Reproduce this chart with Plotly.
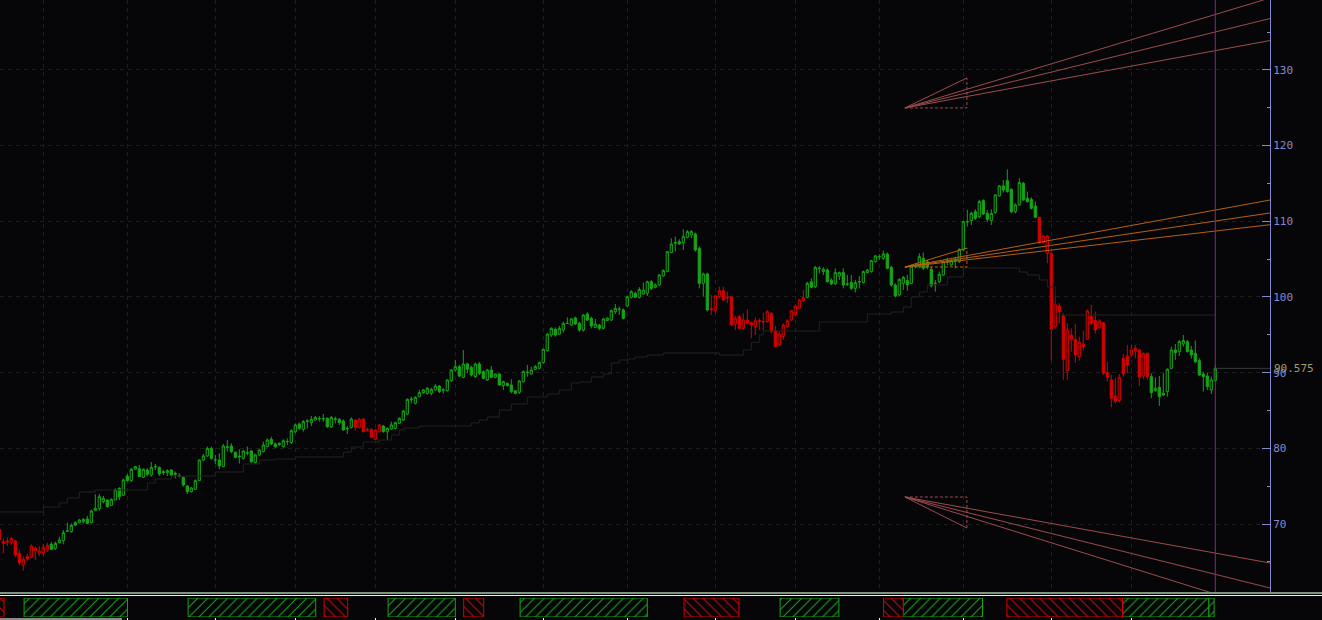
import plotly.graph_objects as go

BG = "#060609"
GREEN = "#14a514"
RED = "#d40000"
GRID = "#1e1e1e"
AXIS = "#8888cc"

opens = [69.31, 67.68, 67.77, 67.55, 67.77, 66.14, 64.6, 65.7, 65.61, 66.8,
         66.14, 66.23, 66.58, 67.33, 66.76, 67.55, 67.81, 69.05, 69.0, 70.19,
         70.19, 70.32, 70.67, 70.19, 71.77, 72.04, 72.96, 73.18, 72.48, 73.18,
         74.72, 73.8, 76.35, 75.74, 77.24, 77.32, 76.18, 77.15, 76.49, 77.55,
         77.5, 76.93, 76.8, 77.15, 76.71, 76.35, 76.18, 75.03, 74.28, 74.59,
         75.74, 78.47, 79.0, 80.0, 78.47, 78.47, 77.59, 80.1, 80.32, 79.48,
         79.0, 78.69, 79.4, 79.66, 78.12, 79.13, 79.57, 80.23, 81.2, 80.58,
         80.5, 80.23, 80.9, 80.76, 82.2, 83.22, 82.52, 83.58, 83.4, 83.75,
         83.9, 83.9, 83.97, 82.87, 83.8, 83.84, 83.62, 82.6, 82.78, 83.75,
         82.78, 83.88, 82.5, 82.52, 81.2, 82.21, 82.96, 82.21, 82.56, 82.65,
         83.31, 83.75, 84.54, 86.4, 85.95, 86.83, 87.36, 87.27, 87.27, 87.72,
         88.24, 87.72, 87.63, 88.95, 90.36, 90.8, 89.39, 91.15, 90.71, 89.48,
         91.15, 90.14, 89.04, 90.36, 89.39, 89.83, 88.29, 88.6, 88.38, 87.6,
         87.4, 88.81, 90.0, 89.83, 90.45, 90.58, 91.33, 92.9, 94.98, 95.73,
         95.1, 95.64, 96.5, 96.3, 97.23, 96.52, 95.64, 97.75, 97.18, 95.99,
         96.3, 95.86, 96.9, 96.96, 98.06, 98.36, 98.28, 98.81, 99.96, 100.48,
         99.96, 100.4, 100.48, 102.02, 101.28, 101.58, 102.77, 103.35, 105.86, 107.1,
         107.3, 107.18, 107.88, 108.19, 108.32, 106.43, 101.8, 103.04, 98.45, 98.19,
         100.04, 100.83, 100.0, 100.04, 96.43, 97.4, 95.86, 96.96, 96.6, 96.08,
         96.87, 96.74, 96.74, 97.84, 95.55, 93.66, 94.76, 96.08, 96.96, 97.62,
         98.5, 99.52, 99.96, 102.0, 101.36, 103.8, 103.35, 103.57, 102.24, 101.72,
         102.77, 103.22, 101.72, 101.9, 101.14, 102.0, 101.9, 103.22, 103.35, 104.67,
         105.3, 105.1, 105.68, 103.92, 101.58, 100.26, 101.8, 102.16, 101.8, 104.0,
         104.01, 105.11, 104.67, 103.66, 101.8, 102.02, 102.9, 104.6, 104.23, 104.8,
         104.67, 106.21, 109.9, 110.09, 111.27, 110.6, 112.73, 111.05, 110.09, 111.14,
         113.35, 114.67, 115.37, 114.23, 111.27, 112.16, 115.02, 113.04, 112.9, 112.02,
         110.53, 107.18, 105.77, 105.77, 96.09, 98.82, 97.5, 90.27, 94.98, 94.41,
         92.12, 93.8, 94.41, 97.5, 96.88, 96.0, 96.61, 90.01, 89.04, 86.93,
         86.31, 91.9, 92.21, 92.34, 93.22, 93.0, 89.57, 92.56, 89.48, 87.63,
         88.07, 87.28, 87.5, 90.58, 93.0, 92.78, 93.8, 94.1, 93.0, 92.56,
         91.6, 89.83, 89.57, 87.72, 88.95]

highs = [69.4, 68.12, 68.25, 68.25, 67.9, 66.58, 65.7, 66.05, 67.3, 67.02,
         67.11, 67.37, 67.55, 67.64, 67.68, 68.34, 69.22, 70.19, 70.1, 70.37,
         70.67, 70.8, 71.07, 71.9, 73.93, 73.98, 73.71, 73.27, 73.4, 74.72,
         74.86, 76.0, 76.62, 77.4, 77.68, 77.81, 77.35, 77.37, 78.2, 77.94,
         77.59, 77.15, 77.24, 77.24, 76.93, 76.71, 76.27, 75.12, 74.9, 75.9,
         78.55, 79.26, 80.23, 80.23, 79.13, 79.35, 80.58, 81.1, 80.67, 79.6,
         79.88, 79.8, 80.23, 79.79, 79.3, 79.9, 80.89, 81.33, 81.55, 80.8,
         80.8, 81.2, 81.33, 82.52, 83.3, 83.4, 83.75, 83.84, 84.28, 84.28,
         84.28, 84.54, 84.1, 84.28, 84.19, 84.0, 83.84, 82.96, 84.1, 83.84,
         84.0, 84.0, 82.78, 82.65, 82.56, 83.22, 83.1, 82.78, 83.53, 83.53,
         84.1, 85.08, 86.6, 86.83, 86.9, 87.72, 87.85, 88.1, 88.0, 88.5,
         88.38, 87.94, 89.13, 90.5, 91.68, 91.02, 92.99, 91.33, 90.9, 91.3,
         91.42, 90.3, 90.5, 90.88, 89.9, 89.92, 88.95, 88.7, 89.13, 87.7,
         89.04, 90.3, 91.02, 90.8, 91.0, 91.5, 93.2, 95.2, 96.0, 95.99,
         96.17, 96.74, 97.31, 97.2, 97.4, 96.74, 97.75, 97.97, 97.4, 97.1,
         96.43, 97.23, 97.31, 98.32, 99.07, 98.72, 98.5, 100.2, 100.9, 100.7,
         101.3, 101.9, 102.16, 102.24, 101.8, 103.04, 103.65, 106.0, 107.75, 107.97,
         107.62, 108.94, 108.85, 108.85, 108.5, 106.65, 103.22, 103.22, 100.26, 100.26,
         101.36, 101.36, 100.7, 100.2, 97.49, 97.62, 97.84, 98.37, 96.74, 97.31,
         97.18, 97.93, 98.28, 98.0, 96.17, 95.55, 96.52, 97.05, 98.28, 98.94,
         99.74, 100.93, 102.0, 102.46, 104.1, 104.1, 103.92, 103.79, 102.46, 103.79,
         103.35, 103.79, 102.9, 102.9, 102.24, 102.77, 103.48, 103.7, 104.9, 105.55,
         105.64, 106.12, 105.86, 104.1, 101.8, 102.5, 102.77, 102.9, 104.23, 104.45,
         105.77, 105.86, 104.89, 104.0, 102.24, 103.35, 104.8, 105.2, 105.0, 105.3,
         106.43, 110.1, 111.5, 111.27, 111.58, 112.82, 112.9, 111.5, 111.58, 113.6,
         114.8, 115.46, 116.87, 114.36, 112.38, 115.68, 115.2, 113.92, 113.17, 112.6,
         110.6, 108.19, 108.19, 105.9, 100.1, 99.17, 97.85, 96.53, 95.86, 96.44,
         94.76, 95.56, 98.38, 98.95, 98.07, 97.05, 96.7, 91.46, 89.7, 89.26,
         89.83, 92.47, 93.66, 93.66, 93.66, 93.09, 92.65, 92.65, 89.92, 89.39,
         89.57, 89.92, 90.58, 93.44, 93.8, 94.32, 94.98, 94.32, 93.53, 94.24,
         91.9, 90.14, 90.01, 89.48, 91.02]

lows = [67.6, 66.14, 67.11, 67.24, 65.61, 64.6, 63.85, 65.17, 65.5, 65.26,
        65.79, 65.7, 66.32, 66.58, 66.58, 67.46, 67.33, 68.97, 68.87, 69.75,
        70.1, 70.1, 69.97, 70.1, 71.77, 71.77, 72.74, 72.22, 72.4, 73.18,
        73.18, 73.7, 75.61, 75.6, 77.15, 76.27, 76.1, 76.35, 76.27, 77.15,
        76.35, 76.49, 76.35, 76.35, 76.05, 76.18, 74.95, 73.98, 74.2, 74.5,
        75.7, 78.3, 78.9, 78.47, 77.94, 77.24, 77.55, 79.6, 79.35, 78.7,
        78.0, 78.5, 79.1, 78.03, 77.94, 79.0, 79.48, 80.14, 80.45, 80.1,
        80.3, 80.1, 80.45, 80.58, 82.0, 82.43, 82.21, 82.65, 82.96, 83.66,
        83.53, 83.53, 82.7, 82.7, 83.31, 83.1, 82.34, 81.9, 82.6, 82.34,
        82.65, 82.1, 82.21, 81.33, 81.11, 82.08, 82.08, 81.11, 82.43, 82.52,
        83.22, 83.62, 84.4, 85.95, 85.8, 86.75, 87.2, 87.1, 87.0, 87.63,
        87.3, 87.27, 87.5, 88.8, 90.14, 89.39, 89.26, 89.92, 89.5, 89.3,
        89.7, 89.1, 88.9, 89.26, 89.26, 88.24, 87.72, 88.15, 87.27, 87.15,
        87.2, 88.7, 89.48, 89.7, 90.36, 90.45, 91.2, 92.8, 94.7, 94.76,
        94.98, 95.3, 96.43, 96.2, 96.3, 95.42, 95.42, 96.83, 95.86, 95.86,
        95.6, 95.73, 96.83, 96.83, 97.75, 97.62, 97.05, 98.7, 99.8, 99.83,
        99.8, 100.26, 100.13, 100.92, 101.14, 101.45, 102.68, 103.3, 105.77, 105.99,
        106.9, 106.21, 107.75, 107.75, 105.99, 101.14, 100.04, 98.1, 97.62, 97.93,
        99.83, 99.4, 99.17, 96.2, 95.64, 95.73, 95.73, 96.43, 94.54, 94.98,
        95.64, 95.55, 96.6, 95.2, 93.35, 93.44, 94.32, 95.86, 96.87, 97.49,
        98.4, 99.39, 99.83, 101.14, 101.2, 103.13, 102.9, 101.9, 101.58, 101.58,
        102.24, 101.14, 101.45, 100.93, 100.58, 101.14, 101.8, 103.1, 103.22, 104.54,
        104.89, 104.89, 103.66, 101.36, 99.96, 100.13, 100.93, 100.83, 101.7, 103.79,
        103.79, 103.57, 103.66, 101.28, 100.7, 101.8, 102.8, 104.2, 104.1, 103.79,
        104.5, 106.1, 109.3, 109.51, 110.17, 110.4, 110.83, 109.95, 109.51, 111.0,
        113.26, 113.79, 113.79, 111.05, 111.05, 112.1, 112.7, 112.46, 111.58, 110.4,
        107.0, 107.0, 104.45, 91.6, 95.8, 96.53, 89.04, 89.04, 92.78, 91.33,
        91.6, 92.92, 94.32, 96.31, 95.2, 95.73, 89.7, 88.82, 85.43, 85.96,
        86.09, 89.48, 89.92, 92.03, 91.9, 88.25, 89.13, 89.04, 86.62, 87.5,
        85.61, 86.93, 86.84, 90.45, 91.68, 92.21, 93.44, 92.65, 91.86, 91.24,
        89.57, 87.5, 87.72, 87.19, 88.82]

closes = [67.9, 67.46, 67.64, 68.12, 65.92, 64.91, 65.35, 65.39, 67.11, 66.49,
          66.45, 66.93, 67.2, 66.67, 67.46, 67.9, 68.87, 69.1, 69.84, 69.88,
          70.54, 70.63, 70.1, 71.73, 72.08, 73.62, 73.4, 72.3, 73.27, 74.5,
          73.62, 75.83, 75.74, 77.24, 77.59, 76.27, 77.24, 76.57, 77.5, 77.6,
          76.62, 76.8, 77.06, 76.49, 76.6, 76.4, 75.17, 74.28, 74.77, 75.74,
          78.47, 79.0, 80.0, 78.69, 78.5, 77.68, 80.32, 80.2, 79.57, 78.82,
          78.9, 79.66, 79.44, 78.25, 79.13, 79.79, 80.45, 81.11, 80.58, 80.23,
          80.67, 81.02, 80.92, 82.34, 83.1, 82.65, 83.53, 83.62, 83.84, 84.1,
          83.95, 83.92, 82.87, 84.1, 83.9, 83.4, 82.43, 82.65, 83.88, 82.78,
          83.88, 82.21, 82.43, 81.46, 82.43, 83.1, 82.21, 82.65, 83.1, 83.4,
          83.97, 84.94, 86.48, 86.5, 86.75, 87.36, 87.72, 87.94, 87.8, 88.24,
          87.5, 87.72, 89.04, 90.36, 90.8, 89.57, 91.15, 90.45, 89.7, 91.15,
          89.92, 89.26, 90.36, 89.39, 89.83, 88.38, 88.81, 88.3, 87.5, 87.27,
          88.9, 90.14, 90.05, 90.36, 90.8, 91.33, 93.09, 95.1, 95.86, 94.98,
          95.86, 96.52, 96.52, 97.1, 96.43, 95.64, 97.62, 96.96, 96.17, 96.43,
          95.86, 97.1, 97.2, 98.19, 98.5, 98.4, 97.18, 100.04, 100.7, 99.96,
          101.0, 100.92, 102.02, 101.14, 101.6, 102.9, 103.48, 105.99, 107.0, 107.2,
          107.0, 107.97, 108.63, 108.63, 106.21, 101.8, 103.04, 98.28, 98.32, 100.13,
          100.83, 99.6, 99.9, 96.3, 97.18, 95.86, 96.96, 96.52, 96.3, 96.87,
          96.74, 96.7, 98.06, 95.42, 93.44, 95.1, 96.3, 96.87, 98.19, 98.81,
          99.61, 99.9, 101.8, 101.28, 103.92, 103.78, 103.66, 102.02, 101.72, 103.22,
          103.22, 101.58, 101.7, 101.14, 101.9, 102.02, 103.35, 103.57, 104.8, 105.42,
          105.33, 105.68, 103.79, 101.58, 100.13, 102.33, 102.6, 101.58, 104.1, 104.1,
          105.33, 103.79, 103.92, 101.45, 101.8, 102.99, 104.67, 104.67, 104.8, 104.9,
          106.3, 109.95, 109.95, 111.05, 110.4, 112.6, 110.97, 110.26, 111.05, 113.48,
          114.67, 114.14, 113.92, 111.27, 112.16, 115.11, 112.82, 112.6, 111.71, 110.53,
          107.18, 108.06, 108.06, 95.73, 99.0, 98.07, 91.77, 95.64, 94.41, 92.34,
          94.02, 93.44, 98.16, 96.53, 95.64, 96.83, 89.92, 89.4, 86.62, 86.18,
          89.4, 89.83, 91.02, 93.0, 92.92, 89.4, 92.56, 89.48, 87.37, 87.94,
          86.84, 87.06, 90.45, 93.0, 92.65, 94.1, 94.24, 92.78, 92.34, 91.46,
          89.7, 89.48, 88.16, 89.04, 90.575]

# candle index ranges drawn in red (trend state), the rest is green
red_segments = [(0, 12), (89, 95), (178, 201), (260, 287)]

# dark stepped support line (index, price)
band_idx = [0, 11, 15, 17, 20, 24, 37, 39, 43, 54, 61, 65, 69, 74, 86, 88, 91, 95,
            98, 100, 101, 105, 118, 120, 122, 125, 128, 132, 137, 140, 143, 145,
            148, 151, 153, 155, 157, 159, 162, 166, 180, 186, 188, 190, 191, 205,
            217, 223, 226, 228, 230, 232, 237, 241, 255, 257, 260, 262, 264, 304]
band_val = [71.6, 72.26, 72.79, 73.45, 74.24, 74.5, 75.43, 75.96, 76.35, 76.88,
            77.94, 78.47, 78.6, 78.86, 79.5, 80.18, 80.85, 81.11, 81.77, 82.43,
            82.69, 82.96, 83.36, 83.75, 84.15, 85.07, 85.87, 86.79, 87.19, 87.71,
            88.64, 88.77, 89.43, 89.83, 91.28, 91.68, 91.81, 92.07, 92.34, 92.6,
            92.34, 93.0, 94.0, 95.0, 95.51, 96.7, 97.75, 98.02, 98.68, 100.0,
            100.66, 101.59, 102.64, 103.83, 103.3, 102.91, 102.25, 101.32, 97.62, 97.62]

# month boundaries (candle index)
month_idx = [11, 32, 54, 74, 94, 114, 136, 157, 179, 199, 220, 241, 263, 283]

# lower indicator strip boxes
box_start = [-5, 6.2, 47.2, 81.2, 97.2, 116.1, 130.2, 171.2, 195.2, 221.05, 226.0, 251.9, 280.8, 302.4]
box_end = [1.18, 32.05, 79.1, 87.1, 114.0, 121.1, 162.0, 184.9, 209.9, 226.0, 245.8, 280.8, 302.4, 303.7]
box_dir = ["dn", "up", "up", "dn", "up", "dn", "up", "dn", "up", "dn", "up", "dn", "up", "up"]

# fan drawings: anchor index, box corner index, right end index
fan_x_origin = 226.4
fan_x_box = 241.9
fan_x_end = 317.7
upper_fan = {"origin": 124.97, "corner": 128.93, "ends": [139.5, 136.78, 133.88]}
middle_fan = {"origin": 103.96, "corner": 106.47, "ends": [112.81, 111.1, 109.55]}
lower_fan = {"origin": 73.58, "corner": 69.48, "ends": [58.5, 61.56, 64.86]}

y_range = [61.03, 139.23]
x_range = [0.175, 317.675]
y_ticks = [70, 80, 90, 100, 110, 120, 130]
y_minor = [65, 75, 85, 95, 105, 115, 125, 135]

n = len(closes)
red_set = set()
for a, b in red_segments:
    red_set.update(range(a, b + 1))

fig = go.Figure()

def add_candles(indices, color):
    fig.add_trace(go.Candlestick(
        x=indices,
        open=[opens[i] for i in indices],
        high=[highs[i] for i in indices],
        low=[lows[i] for i in indices],
        close=[closes[i] for i in indices],
        increasing=dict(line=dict(color=color, width=1), fillcolor=BG),
        decreasing=dict(line=dict(color=color, width=1), fillcolor=color),
        whiskerwidth=0, showlegend=False, hoverinfo="skip",
        xaxis="x", yaxis="y"))

# stepped band (drawn under candles)
fig.add_trace(go.Scatter(x=band_idx, y=band_val, mode="lines", line_shape="hv",
                         line=dict(color="#222222", width=1), showlegend=False,
                         hoverinfo="skip", xaxis="x", yaxis="y"))

add_candles([i for i in range(n) if i not in red_set], GREEN)
add_candles([i for i in range(n) if i in red_set], RED)

def add_fan(fan, color):
    o, c = fan["origin"], fan["corner"]
    fig.add_trace(go.Scatter(x=[fan_x_origin, fan_x_box, fan_x_box], y=[o, o, c], mode="lines",
                             line=dict(color=color, width=1, dash="3px,2px"),
                             showlegend=False, hoverinfo="skip", xaxis="x", yaxis="y"))
    fig.add_trace(go.Scatter(x=[fan_x_origin, fan_x_box], y=[o, c], mode="lines",
                             line=dict(color=color, width=1),
                             showlegend=False, hoverinfo="skip", xaxis="x", yaxis="y"))
    for e in fan["ends"]:
        fig.add_trace(go.Scatter(x=[fan_x_origin, fan_x_end], y=[o, e], mode="lines",
                                 line=dict(color=color, width=1),
                                 showlegend=False, hoverinfo="skip", xaxis="x", yaxis="y"))

add_fan(upper_fan, "#9c4c4c")
add_fan(lower_fan, "#9c4c4c")
add_fan(middle_fan, "#b8600e")

# indicator strip boxes
for d, col, shp in (("up", GREEN, "/"), ("dn", RED, "\\")):
    xs = [(s + e) / 2 for s, e, k in zip(box_start, box_end, box_dir) if k == d]
    ws = [(e - s) for s, e, k in zip(box_start, box_end, box_dir) if k == d]
    fig.add_trace(go.Bar(x=xs, y=[1] * len(xs), width=ws, base=0,
                         marker=dict(color=col, line=dict(color=col, width=1),
                                     pattern=dict(shape=shp, fgcolor=col, bgcolor=BG,
                                                  size=7, solidity=0.15, fillmode="replace")),
                         showlegend=False, hoverinfo="skip", xaxis="x2", yaxis="y2"))

last = n - 1
shapes = [
    # last price line
    dict(type="line", xref="x", yref="y", x0=last, x1=x_range[1], y0=closes[-1], y1=closes[-1],
         line=dict(color="#3a3a3a", width=1)),
    # cursor line at last candle
    dict(type="line", xref="x", yref="paper", x0=last, x1=last, y0=28 / 620, y1=1,
         line=dict(color="#8a2090", width=1)),
    # separators
    dict(type="line", xref="paper", yref="paper", x0=0, x1=1, y0=1 - 593 / 620, y1=1 - 593 / 620,
         line=dict(color="#a6c4a6", width=1.5)),
    dict(type="line", xref="paper", yref="paper", x0=0, x1=1, y0=1 - 595.5 / 620, y1=1 - 595.5 / 620,
         line=dict(color="#f0f0f0", width=1)),
    # scrollbar
    dict(type="rect", xref="paper", yref="paper", x0=0, x1=122 / 1322, y0=0, y1=2 / 620,
         line=dict(width=0), fillcolor="#8a8a8a"),
]

annotations = [
    dict(text=f"{closes[-1]:.3f}", xref="paper", yref="y", x=1272 / 1322, y=closes[-1],
         xanchor="left", yanchor="middle", showarrow=False,
         font=dict(family="DejaVu Sans Mono", size=11, color="#a39c6c")),
]

dom_x = [0, 1270 / 1322]
fig.update_layout(
    width=1322, height=620, autosize=False,
    margin=dict(l=0, r=0, t=0, b=0),
    paper_bgcolor=BG, plot_bgcolor=BG,
    showlegend=False, barmode="overlay", boxgap=0.2,
    shapes=shapes, annotations=annotations,
    xaxis=dict(domain=dom_x, range=x_range, anchor="y", rangeslider=dict(visible=False),
               tickvals=month_idx, showticklabels=False, ticks="",
               showgrid=True, gridcolor=GRID, griddash="4px,4px", gridwidth=1,
               zeroline=False, showline=False),
    yaxis=dict(domain=[28 / 620, 1], range=y_range, side="right", anchor="x",
               tickvals=y_ticks, ticks="inside", ticklen=8, tickcolor=AXIS, tickwidth=1,
               showline=True, linecolor=AXIS, linewidth=1,
               showgrid=True, gridcolor=GRID, griddash="4px,4px", gridwidth=1, zeroline=False,
               tickfont=dict(family="DejaVu Sans Mono", size=11, color=AXIS),
               minor=dict(tickvals=y_minor, ticks="inside", ticklen=3, tickcolor=AXIS, showgrid=False)),
    xaxis2=dict(domain=dom_x, range=x_range, anchor="y2", matches="x",
                tickvals=month_idx, ticks="outside", ticklen=3, tickcolor="#f0f0f0",
                showticklabels=False, showgrid=False, zeroline=False, showline=False),
    yaxis2=dict(domain=[3 / 620, 22 / 620], range=[0, 1], visible=False, fixedrange=True),
)

fig.write_html("out.html", config={"displayModeBar": False},
               post_script="document.body.style.margin='0';document.body.style.background='" + BG + "';")
